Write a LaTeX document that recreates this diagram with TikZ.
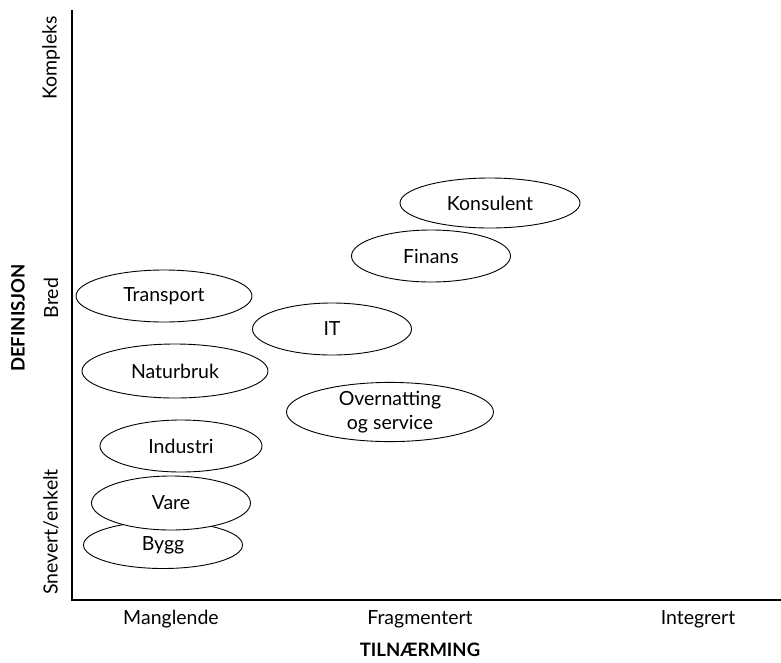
\documentclass[tikz,border=0pt]{standalone}
\usepackage{fontspec}
\setmainfont{Lato}
\usepackage{tikz}
\usetikzlibrary{shapes.geometric, positioning}

\begin{document}
\begin{tikzpicture}[x=1pt, y=-1pt,
      sector/.style={draw, ellipse, fill=white, line width=0.9pt, inner sep=0pt,
                     font=\fontsize{19.5}{24}\selectfont, align=center},
      tick/.style={font=\fontsize{19.5}{24}\selectfont},
      axlabel/.style={font=\fontsize{18.5}{22}\selectfont\bfseries}]

    \useasboundingbox (0,0) rectangle (781,662);

    % axes
    \coordinate (top) at (72,10);
    \coordinate (origo) at (72,600);
    \coordinate (right) at (781,600);
    \draw[line width=1.2pt] (top) -- (origo) -- (right);

    % x-akse
    \node[tick] (mangl) at (171,619) {Manglende};
    \node[tick] (fragm) at (420,619) {Fragmentert};
    \node[tick] (integ) at (698,619) {Integrert};
    \node[axlabel] (tiln) at (420,650) {TILNÆRMING};

    % y-akse
    \node[tick, rotate=90] (kompl) at (51,58) {Kompleks};
    \node[tick, rotate=90] (bred) at (51,298) {Bred};
    \node[tick, rotate=90] (snev) at (51,532) {Snevert/enkelt};
    \node[axlabel, rotate=90] (defin) at (18,318) {DEFINISJON};

    % sektorer
    \node[sector, minimum width=159pt, minimum height=52pt] (finans) at (431,256) {Finans};
    \node[sector, minimum width=180pt, minimum height=50pt] (konsulent) at (490,203) {Konsulent};
    \node[sector, minimum width=176pt, minimum height=52pt] (transport) at (164,296) {Transport};
    \node[sector, minimum width=159pt, minimum height=52pt] (it) at (332,329) {IT};
    \node[sector, minimum width=186pt, minimum height=54pt] (naturbruk) at (175,371) {Naturbruk};
    \node[sector, minimum width=207pt, minimum height=57pt] (overnatting) at (390,412) {Overnatting\\og service};
    \node[sector, minimum width=162pt, minimum height=52pt] (industri) at (181,446) {Industri};
    \node[sector, minimum width=159pt, minimum height=47pt] (bygg) at (163,545) {Bygg};
    \node[sector, minimum width=159pt, minimum height=54pt] (vare) at (171,503) {Vare};
  \end{tikzpicture}
\end{document}
